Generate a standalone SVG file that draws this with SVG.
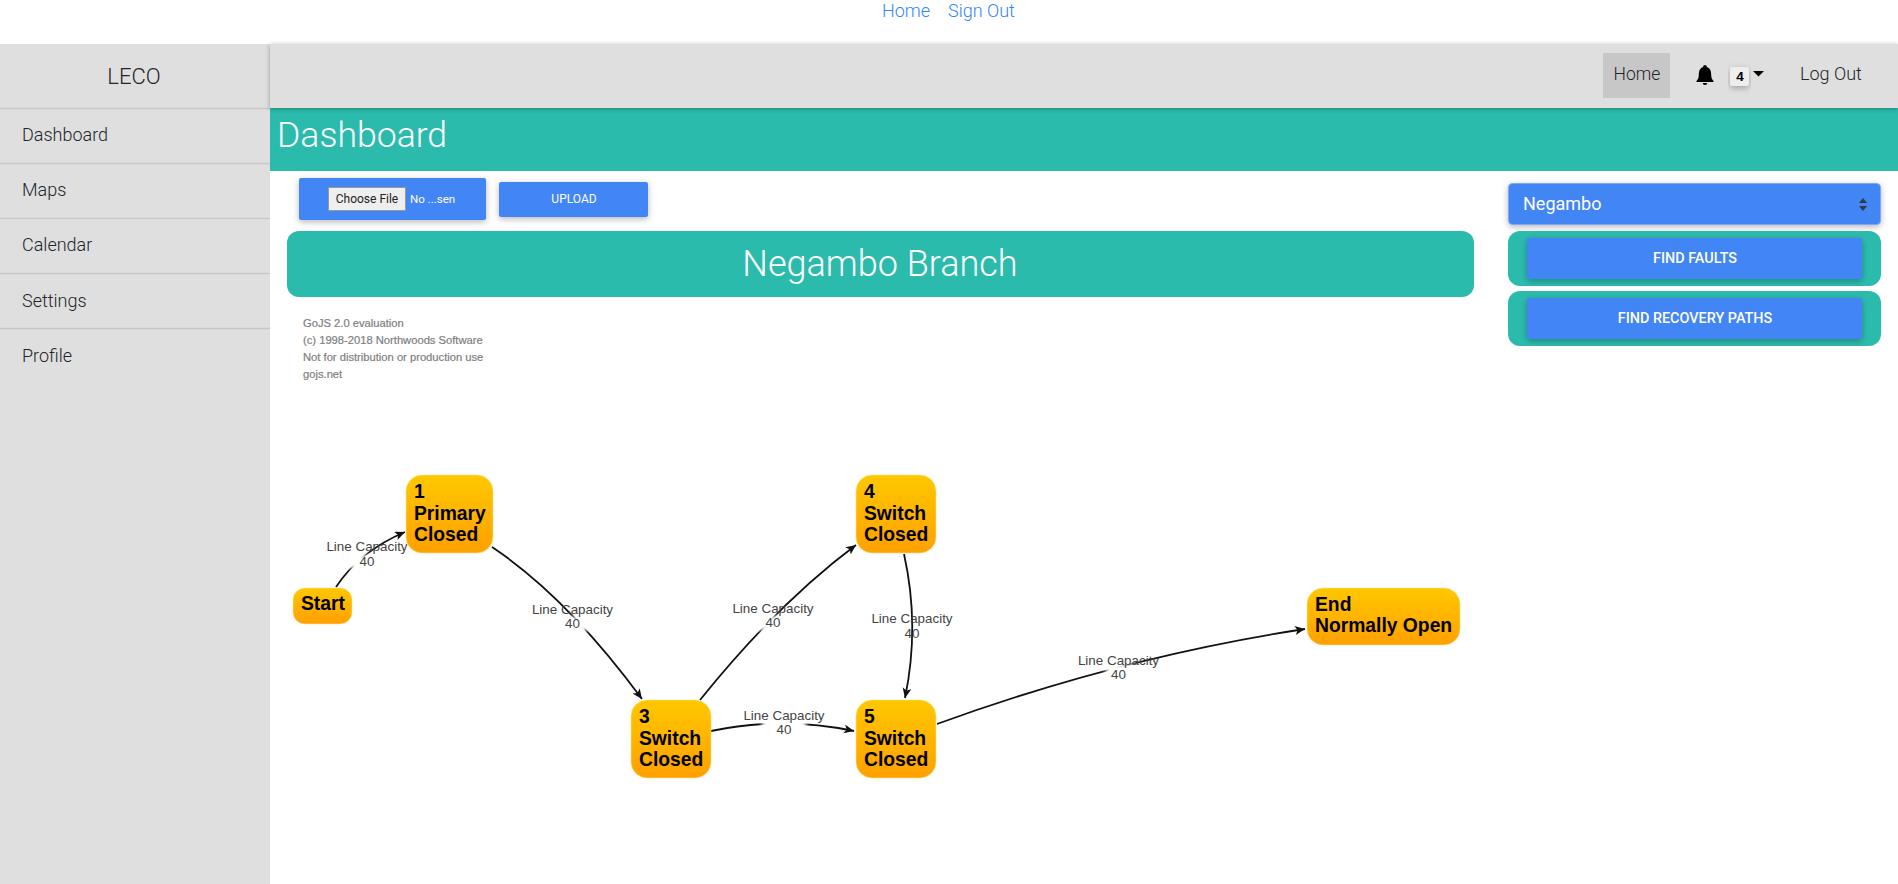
<svg xmlns="http://www.w3.org/2000/svg" width="1898" height="884" viewBox="0 0 1898 884">
<style>
.rl{font-family:Roboto,"Liberation Sans",sans-serif;font-weight:300;fill:#212529}
.r{font-family:Roboto,"Liberation Sans",sans-serif;font-weight:400;fill:#fff}
.rm{font-family:Roboto,"Liberation Sans",sans-serif;font-weight:500;fill:#fff}
.side{font-size:18px}
.sep{stroke:#c8c8c8;stroke-width:1.5}
.wm{font-family:"Liberation Sans",Arial,sans-serif;font-size:11.2px;fill:#808080;stroke:#808080;stroke-width:.2}
.n{fill:url(#ng);stroke:#ffe28a;stroke-width:.6}
.nt{font-family:"Liberation Sans",Arial,sans-serif;font-weight:700;font-size:19.3px;fill:#000}
.lt{font-family:"Liberation Sans",Arial,sans-serif;font-size:13.4px;fill:#444;text-anchor:middle}
.lk{fill:none;stroke:#111;stroke-width:1.8;marker-end:url(#ah)}
.halo{fill:#fff;filter:url(#soft)}
.btn{fill:#4285f4;filter:url(#sh)}
.teal{fill:#2bbbad}
</style>
<defs>
<linearGradient id="ng" x1="0" y1="0" x2="0" y2="1"><stop offset="0" stop-color="#ffc800"/><stop offset="1" stop-color="#ffa000"/></linearGradient>
<filter id="sh" x="-10%" y="-30%" width="120%" height="170%"><feDropShadow dx="0" dy="2" stdDeviation="3" flood-color="#000" flood-opacity=".28"/></filter>
<filter id="hs" x="-5%" y="-30%" width="110%" height="170%"><feDropShadow dx="0" dy="1" stdDeviation="2.5" flood-color="#000" flood-opacity=".3"/></filter>
<filter id="soft" x="-40%" y="-40%" width="180%" height="180%"><feGaussianBlur stdDeviation="2"/></filter>
<marker id="ah" markerUnits="userSpaceOnUse" markerWidth="12" markerHeight="10" refX="10" refY="4.5" orient="auto"><path d="M0 0L10 4.5L0 9L2.5 4.5Z" fill="#111"/></marker>
</defs>
<rect width="1898" height="884" fill="#fff"/>
<g id="topnav" font-family="Roboto,'Liberation Sans',sans-serif" font-size="18" font-weight="300" fill="#2f86f5">
<text x="882" y="17">Home</text><text x="948" y="17">Sign Out</text>
</g>
<g id="sidebar">
<rect x="0" y="44" width="270" height="840" fill="#dfdfdf"/>
<text class="rl" x="134" y="84" font-size="22" text-anchor="middle">LECO</text>
<path class="sep" d="M0 108.500H270M0 163.500H270M0 218.500H270M0 273.500H270M0 328.500H270"/>
<text class="rl side" x="22" y="141">Dashboard</text>
<text class="rl side" x="22" y="196">Maps</text>
<text class="rl side" x="22" y="251">Calendar</text>
<text class="rl side" x="22" y="307">Settings</text>
<text class="rl side" x="22" y="362">Profile</text>
</g>
<g id="titlebar">
<rect class="teal" x="270" y="108" width="1628" height="63"/>
<text x="277" y="147" font-family="Roboto,'Liberation Sans',sans-serif" font-weight="300" font-size="35.600" fill="#fff">Dashboard</text>
</g>
<g id="header">
<rect x="270" y="44" width="1628" height="64" fill="#dfdfdf" filter="url(#hs)"/>
<rect x="1603" y="53" width="67" height="45" fill="#c7c7c7"/>
<text class="rl" x="1637" y="80" font-size="17.500" text-anchor="middle">Home</text>
<path d="M1705 65c-1.200 0-1.800.9-1.800 2-3.200 1-4.400 4-4.400 7.500 0 3.500-.8 5-2.300 6.500v1h17v-1c-1.500-1.500-2.300-3-2.300-6.500 0-3.500-1.200-6.500-4.400-7.500 0-1.100-.6-2-1.800-2zM1702.700 83a2.300 2 0 0 0 4.600 0z" fill="#000"/>
<rect x="1730" y="67" width="19" height="19" rx="3" fill="#eee" filter="url(#sh)"/>
<text x="1740" y="81" font-family="'Liberation Sans',sans-serif" font-weight="700" font-size="13.500" text-anchor="middle" fill="#000">4</text>
<path d="M1753 71h11l-5.500 5.500z" fill="#000"/>
<text class="rl" x="1800" y="80" font-size="18">Log Out</text>
</g>
<g id="upload">
<rect class="btn" x="299" y="178" width="187" height="42" rx="2"/>
<rect x="328.500" y="187.500" width="77" height="23" fill="#efefef" stroke="#999"/>
<text x="367" y="203" font-family="Roboto,sans-serif" font-size="12" fill="#222" text-anchor="middle">Choose File</text>
<text class="r" x="410" y="203" font-size="11.500">No ...sen</text>
<rect class="btn" x="499" y="182" width="149" height="35" rx="2"/>
<text class="r" x="574" y="203" font-size="12" text-anchor="middle">UPLOAD</text>
</g>
<g id="banner">
<rect class="teal" x="287" y="231" width="1187" height="66" rx="12"/>
<text x="880" y="276" font-family="Roboto,'Liberation Sans',sans-serif" font-weight="300" font-size="36" fill="#fff" text-anchor="middle">Negambo Branch</text>
</g>
<g id="watermark">
<text class="wm" x="303" y="327">GoJS 2.0 evaluation</text>
<text class="wm" x="303" y="344">(c) 1998-2018 Northwoods Software</text>
<text class="wm" x="303" y="361">Not for distribution or production use</text>
<text class="wm" x="303" y="378">gojs.net</text>
</g>
<g id="controls">
<rect class="btn" x="1508.500" y="183.500" width="372" height="41" rx="4" stroke="#80a8f8"/>
<text class="r" x="1523" y="210" font-size="18">Negambo</text>
<path d="M1859 203l4-5 4 5zM1859 206l4 5 4-5z" fill="#343a40"/>
<rect class="teal" x="1508" y="231" width="373" height="55" rx="12"/>
<rect class="btn" x="1527" y="238" width="335" height="41" rx="2"/>
<text class="rm" x="1695" y="263" font-size="14.400" text-anchor="middle">FIND FAULTS</text>
<rect class="teal" x="1508" y="291" width="373" height="55" rx="12"/>
<rect class="btn" x="1527" y="298" width="335" height="41" rx="2"/>
<text class="rm" x="1695" y="323" font-size="14.400" text-anchor="middle">FIND RECOVERY PATHS</text>
</g>
<g id="connectors">
<path class="lk" d="M336 587Q360 551 405 532"/>
<path class="lk" d="M492 547Q567 597 642 699"/>
<path class="lk" d="M700 700Q778 603 856 545"/>
<path class="lk" d="M711 731Q782 716 854 731"/>
<path class="lk" d="M904 554Q920 626 905 698"/>
<path class="lk" d="M937 724Q1121 657 1305 629"/>
</g>
<g id="edge-labels">
<rect class="halo" x="350" y="555" width="32" height="14"/><text class="lt" x="367" y="551">Line Capacity</text><text class="lt" x="367" y="566">40</text>
<rect class="halo" x="556" y="617" width="32" height="14"/><text class="lt" x="572.500" y="613.500">Line Capacity</text><text class="lt" x="572.500" y="628">40</text>
<rect class="halo" x="756" y="616" width="34" height="14"/><text class="lt" x="773" y="613">Line Capacity</text><text class="lt" x="773" y="627">40</text>
<rect class="halo" x="762" y="718" width="44" height="17"/><text class="lt" x="784" y="720">Line Capacity</text><text class="lt" x="784" y="734">40</text>
<text class="lt" x="912" y="623">Line Capacity</text><text class="lt" x="912" y="638">40</text>
<rect class="halo" x="1106" y="664" width="30" height="16"/><text class="lt" x="1118.500" y="664.500">Line Capacity</text><text class="lt" x="1118.500" y="679">40</text>
</g>
<g id="node-start"><rect class="n" x="293" y="588" width="59" height="36" rx="12"/><text class="nt" x="301" y="610">Start</text></g>
<g id="node-1"><rect class="n" x="406" y="475" width="87" height="78" rx="16"/><text class="nt" x="414" y="498">1</text><text class="nt" x="414" y="519.500">Primary</text><text class="nt" x="414" y="541">Closed</text></g>
<g id="node-3"><rect class="n" x="631" y="700" width="80" height="78" rx="16"/><text class="nt" x="639" y="723">3</text><text class="nt" x="639" y="744.500">Switch</text><text class="nt" x="639" y="766">Closed</text></g>
<g id="node-4"><rect class="n" x="856" y="475" width="80" height="78" rx="16"/><text class="nt" x="864" y="498">4</text><text class="nt" x="864" y="519.500">Switch</text><text class="nt" x="864" y="541">Closed</text></g>
<g id="node-5"><rect class="n" x="856" y="700" width="80" height="78" rx="16"/><text class="nt" x="864" y="723">5</text><text class="nt" x="864" y="744.500">Switch</text><text class="nt" x="864" y="766">Closed</text></g>
<g id="node-end"><rect class="n" x="1307" y="588" width="153" height="57" rx="16"/><text class="nt" x="1315" y="611">End</text><text class="nt" x="1315" y="632">Normally Open</text></g>
</svg>
